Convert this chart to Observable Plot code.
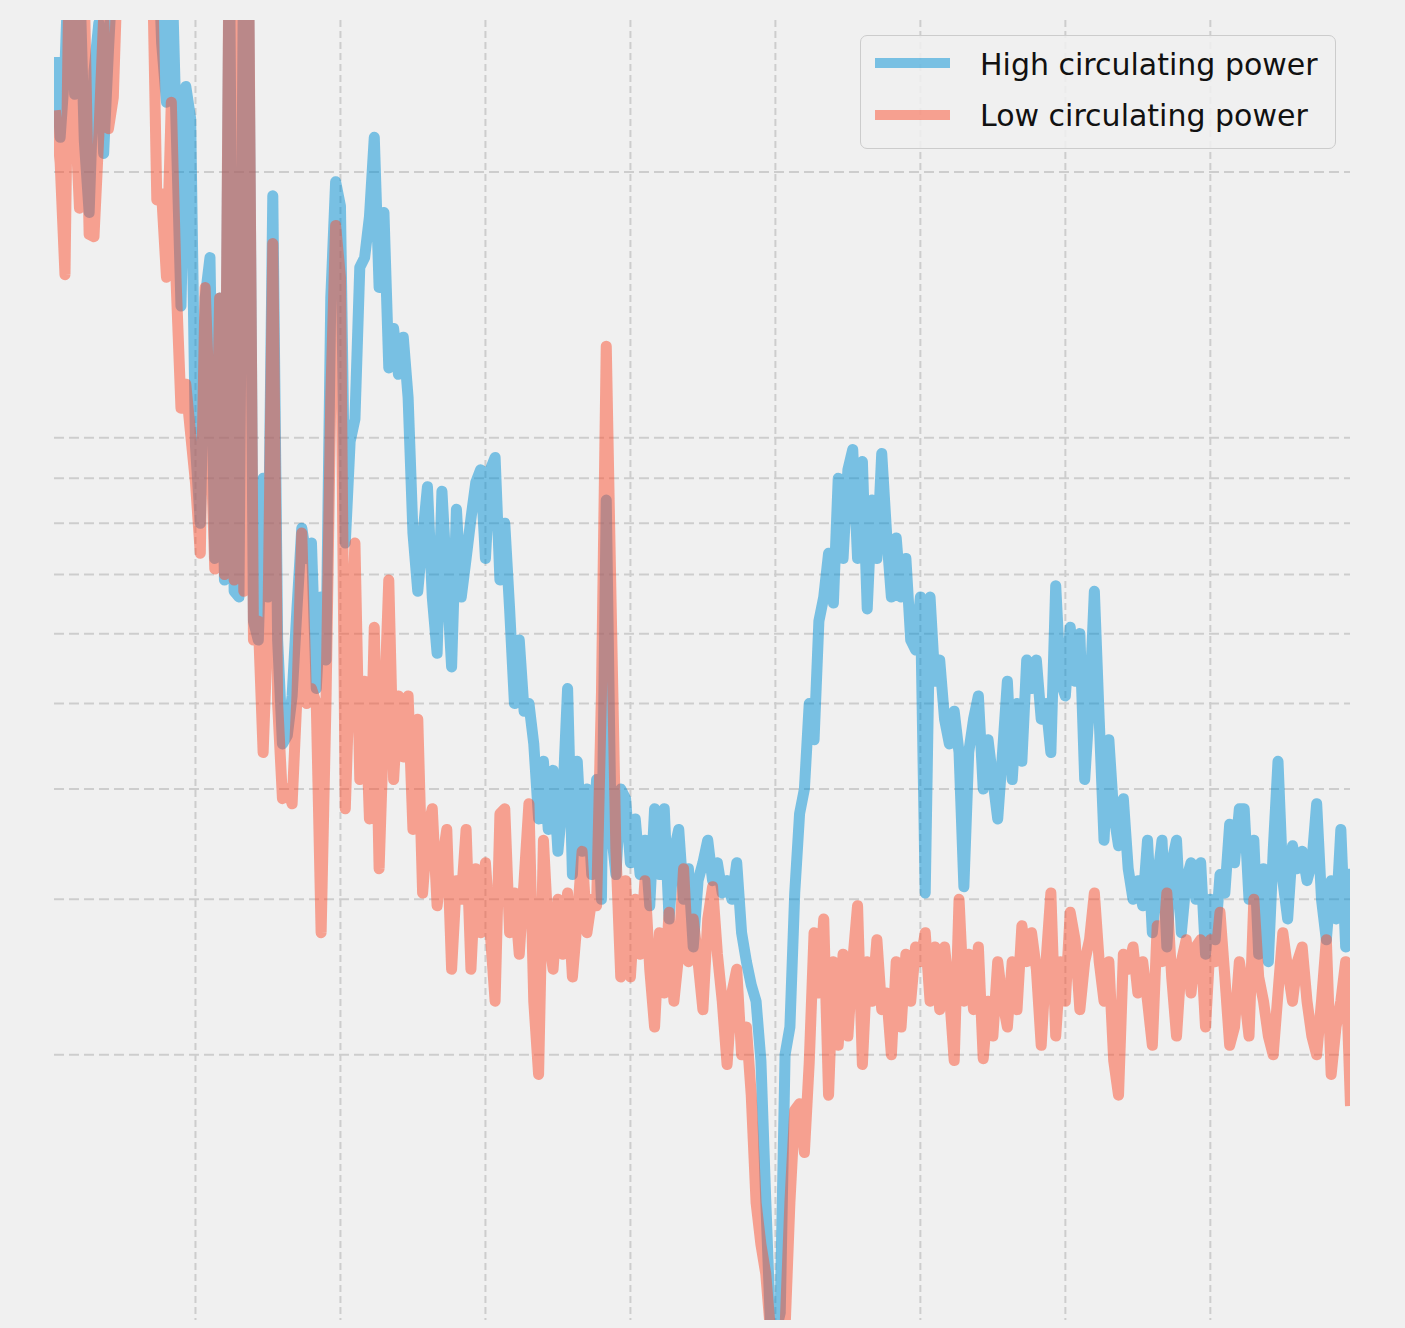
<!DOCTYPE html>
<html>
<head>
<meta charset="utf-8">
<script src="https://cdn.jsdelivr.net/npm/d3@7"></script>
<script src="https://cdn.jsdelivr.net/npm/@observablehq/plot@0.6"></script>
<style>
  html, body { margin: 0; padding: 0; background: #f0f0f0; }
  #wrap { position: relative; width: 1405px; height: 1328px; overflow: hidden; background: #f0f0f0; }
  #legend { position: absolute; left: 860px; top: 35px; width: 474px; height: 112px;
            border: 1px solid #cccccc; border-radius: 7px; background: rgba(240,240,240,0.85);
            font-family: "DejaVu Sans", sans-serif; font-size: 30px; line-height: 30px; color: #111; }
  .sw { position: absolute; left: 14px; width: 75px; height: 10px; }
  .lab { position: absolute; left: 119px; white-space: nowrap; }
</style>
</head>
<body>
<div id="wrap"></div>
<script>
// Series names
const seriesNames = ["High circulating power", "Low circulating power"];
const seriesColors = ["#008fd5", "#fc4f30"];

// High circulating power (sample index 1..269)
const highValues = [
  27, 21.9, 26.3, 38, 24.5, 34, 21.7, 18, 26, 29.5,
  21, 27.5, 35, 40, 45, 42, 48, 44, 41, 46,
  38, 40, 28, 24, 36, 22.5, 14.1, 25, 23, 9.8,
  8.0, 14.4, 16.0, 7.3, 14.4, 6.9, 38, 6.7, 6.6, 38,
  33, 6.2, 5.9, 9.0, 6.6, 18.8, 5.9, 4.5, 4.6, 5.1,
  6.4, 7.9, 7.3, 7.6, 5.2, 6.6, 5.6, 14.4, 19.5, 18.3,
  7.6, 9.9, 10.5, 15.6, 16.0, 17.8, 21.9, 14.8, 18.0, 12.0,
  13.3, 11.8, 13.0, 11.1, 7.8, 6.7, 7.7, 8.8, 6.6, 5.7,
  8.7, 6.9, 5.5, 8.3, 6.6, 7.3, 8.1, 8.9, 9.2, 7.3,
  9.2, 9.5, 6.9, 8.0, 6.4, 5.0, 5.9, 4.9, 5.0, 4.5,
  3.7, 4.3, 3.6, 4.2, 3.4, 3.9, 5.2, 3.2, 4.3, 3.4,
  4.0, 3.2, 4.1, 3.0, 8.5, 3.6, 3.2, 4.0, 3.9, 3.3,
  3.7, 3.2, 3.5, 2.95, 3.8, 3.2, 3.8, 2.85, 3.4, 3.6,
  3.0, 3.25, 2.65, 3.15, 3.3, 3.5, 3.15, 3.3, 3.05, 3.15,
  3.0, 3.3, 2.75, 2.55, 2.4, 2.3, 1.97, 1.37, 0.98, 0.97,
  1.02, 2.0, 2.15, 3.05, 3.75, 4.0, 5.0, 4.55, 6.2, 6.6,
  7.4, 6.5, 9.0, 7.3, 9.2, 9.7, 7.3, 9.4, 6.4, 8.5,
  7.3, 9.6, 7.8, 6.6, 7.7, 6.6, 7.3, 5.9, 5.75, 6.6,
  3.05, 6.6, 5.3, 5.6, 4.8, 4.5, 4.9, 4.4, 3.1, 4.4,
  4.8, 5.1, 4.0, 4.55, 4.1, 3.7, 4.4, 5.3, 4.1, 5.0,
  4.3, 5.6, 5.2, 5.6, 4.8, 5.0, 4.4, 6.8, 5.3, 5.1,
  6.1, 5.3, 6.0, 4.1, 5.0, 6.7, 4.8, 3.5, 4.55, 3.75,
  3.45, 3.9, 3.25, 3.0, 3.15, 2.95, 3.5, 2.75, 3.15, 3.5,
  2.65, 3.3, 3.5, 2.75, 3.15, 3.3, 3.0, 3.3, 2.6, 3.0,
  2.7, 3.2, 3.05, 3.65, 3.3, 3.8, 3.8, 3.0, 3.5, 2.6,
  3.25, 2.55, 3.4, 4.3, 3.15, 2.85, 3.45, 3.25, 3.4, 3.15,
  3.3, 3.85, 3.0, 2.7, 3.15, 2.85, 3.6, 2.65, 3.25
];

// Low circulating power (sample index 1..269)
const lowValues = [
  23.5, 20.5, 15.3, 40, 24, 18.2, 32, 17, 16.9, 22,
  30, 22.4, 24.3, 36, 42, 40, 45, 39, 43, 41,
  37, 18.6, 18.9, 15.2, 24, 15.0, 10.8, 11.5, 10.1, 8.9,
  7.4, 14.8, 10.5, 7.1, 14.4, 7.0, 40, 6.9, 38, 6.7,
  35, 5.9, 6.2, 4.4, 6.2, 16.6, 5.0, 3.9, 4.0, 3.85,
  5.1, 7.8, 5.0, 5.2, 5.0, 2.75, 5.0, 11.1, 17.4, 15.2,
  3.8, 5.6, 7.6, 4.1, 5.3, 3.7, 6.1, 3.25, 4.8, 6.9,
  4.1, 5.1, 4.35, 5.1, 3.6, 4.8, 3.05, 3.6, 3.8, 2.95,
  3.3, 3.6, 2.5, 3.15, 3.0, 3.6, 2.5, 3.25, 2.75, 3.3,
  2.75, 2.3, 3.75, 3.8, 2.75, 3.05, 2.6, 3.15, 3.85, 2.3,
  1.9, 3.5, 2.75, 2.5, 3.0, 2.6, 3.05, 2.45, 2.85, 3.4,
  2.75, 3.0, 2.95, 5.1, 12.7, 6.5, 3.4, 2.45, 3.15, 2.45,
  3.0, 2.6, 3.15, 2.5, 2.15, 2.75, 2.35, 2.9, 2.3, 2.6,
  3.25, 2.55, 2.85, 2.55, 2.25, 2.85, 3.1, 2.6, 2.3, 1.95,
  2.35, 2.5, 2.0, 2.15, 1.8, 1.36, 1.22, 1.13, 0.97, 0.96,
  0.97, 0.98, 1.36, 1.73, 1.76, 1.55, 1.96, 2.75, 2.35, 2.85,
  1.8, 2.55, 2.05, 2.6, 2.1, 2.55, 2.95, 1.95, 2.55, 2.3,
  2.7, 2.25, 2.35, 2.0, 2.55, 2.15, 2.6, 2.3, 2.65, 2.55,
  2.75, 2.3, 2.65, 2.25, 2.65, 2.35, 1.97, 3.0, 2.3, 2.6,
  2.25, 2.65, 1.98, 2.3, 2.1, 2.55, 2.3, 2.15, 2.55, 2.25,
  2.8, 2.55, 2.75, 2.5, 2.05, 2.55, 3.05, 2.1, 2.55, 2.3,
  2.9, 2.7, 2.25, 2.55, 2.7, 3.05, 2.55, 2.3, 2.55, 1.97,
  1.8, 2.6, 2.5, 2.65, 2.35, 2.55, 2.3, 2.05, 2.8, 2.55,
  3.05, 2.45, 2.1, 2.55, 2.7, 2.35, 2.65, 2.7, 2.15, 2.7,
  2.55, 2.9, 2.45, 2.05, 2.15, 2.55, 2.35, 2.1, 3.0, 2.45,
  2.3, 2.1, 2.0, 2.35, 2.75, 2.5, 2.3, 2.55, 2.65, 2.3,
  2.1, 2.0, 2.3, 2.7, 1.9, 2.15, 2.3, 2.55, 1.75
];

// Grid tick positions (labels are not visible in the picture)
const xTicks = [30, 60, 90, 120, 150, 180, 210, 240];
const yTicks = [2, 3, 4, 5, 6, 7, 8, 9, 10, 20];

const toRows = (vals, name) => vals.map((v, i) => ({t: i + 1, v, series: name}));
const highRows = toRows(highValues, seriesNames[0]);
const lowRows = toRows(lowValues, seriesNames[1]);

const chart = Plot.plot({
  width: 1405,
  height: 1328,
  marginLeft: 54,
  marginRight: 55,
  marginTop: 20,
  marginBottom: 8,
  x: {domain: [0.83, 269], axis: null},
  y: {type: "log", domain: [1, 29.7], axis: null},
  style: {background: "#f0f0f0", overflow: "hidden"},
  marks: [
    Plot.ruleY(yTicks, {stroke: "#cdcdcd", strokeWidth: 2, strokeDasharray: "10,5"}),
    Plot.ruleX(xTicks, {stroke: "#cdcdcd", strokeWidth: 2, strokeDasharray: "7,4"}),
    Plot.lineY(highRows, {x: "t", y: "v", stroke: seriesColors[0], strokeOpacity: 0.5,
      strokeWidth: 11, strokeLinejoin: "round", strokeLinecap: "butt", clip: true}),
    Plot.lineY(lowRows, {x: "t", y: "v", stroke: seriesColors[1], strokeOpacity: 0.5,
      strokeWidth: 11, strokeLinejoin: "round", strokeLinecap: "butt", clip: true})
  ]
});

const wrap = document.getElementById("wrap");
wrap.appendChild(chart);

// Legend
const legend = document.createElement("div");
legend.id = "legend";
seriesNames.forEach((name, k) => {
  const sw = document.createElement("div");
  sw.className = "sw";
  sw.style.top = (k === 0 ? 21.5 : 73.5) + "px";
  sw.style.background = seriesColors[k];
  sw.style.opacity = 0.5;
  legend.appendChild(sw);
  const lab = document.createElement("div");
  lab.className = "lab";
  lab.style.top = (k === 0 ? 13.5 : 64.5) + "px";
  lab.textContent = name;
  legend.appendChild(lab);
});
wrap.appendChild(legend);
</script>
</body>
</html>
